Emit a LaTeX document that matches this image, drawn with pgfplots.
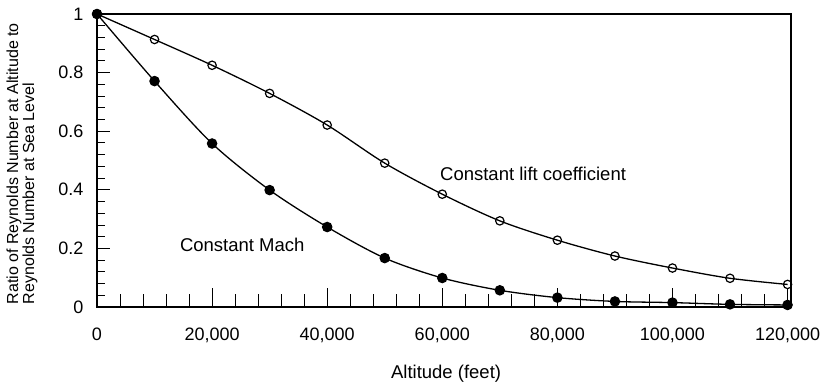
\documentclass[border=0pt]{standalone}
\usepackage{pgfplots}
\pgfplotsset{compat=1.18}
\usepackage{fontspec}
\setmainfont{Liberation Sans}
\begin{document}
\begin{tikzpicture}
\pgfplotsset{
  common/.style={
    at={(0,0)}, anchor=south west,
    scale only axis, width=694pt, height=293pt,
    xmin=0, xmax=120600, ymin=0, ymax=1,
    scaled x ticks=false, scaled y ticks=false,
    axis line style={line width=1.2pt},
    tick align=inside,
    xtick pos=bottom, ytick pos=left,
  }
}
\begin{axis}[common,
  font=\fontsize{18}{20}\selectfont,
  xtick={0,20000,40000,60000,80000,100000,120000},
  xticklabels={0,{20,000},{40,000},{60,000},{80,000},{100,000},{120,000}},
  xtick style={draw=none},
  ytick={0,0.2,0.4,0.6,0.8,1},
  yticklabels={0,0.2,0.4,0.6,0.8,1},
  minor y tick num=4,
  major tick length=12.7pt, minor tick length=7.7pt,
  ytick style={line width=0.9pt, black},
  every minor tick/.append style={line width=0.9pt, black},
  xticklabel style={yshift=-17pt, font=\fontsize{18}{20}\selectfont},
  yticklabel style={xshift=-10pt, font=\fontsize{18}{20}\selectfont},
  xlabel={Altitude (feet)},
  xlabel style={at={(axis description cs:0.503,-0.228)}, anchor=center, font=\fontsize{18.5}{20}\selectfont},
  ylabel={Ratio of Reynolds Number at Altitude to\\Reynolds Number at Sea Level},
  ylabel style={at={(axis description cs:-0.108,0.489)}, anchor=center, align=left, font=\fontsize{16}{14.5}\selectfont},
  clip=false,
]
\addplot[black, line width=1.3pt, smooth, tension=0.5, mark=o, mark size=4.2pt,
  mark options={fill=white, line width=1.2pt}] coordinates {
  (0,1.0) (10000,0.913) (20000,0.825) (30000,0.729) (40000,0.621)
  (50000,0.491) (60000,0.385) (70000,0.294) (80000,0.228) (90000,0.174)
  (100000,0.133) (110000,0.098) (120000,0.077)
};
\addplot[black, line width=1.3pt, smooth, tension=0.5, mark=*, mark size=4.6pt,
  mark options={fill=black}] coordinates {
  (0,1.0) (10000,0.771) (20000,0.558) (30000,0.399) (40000,0.273)
  (50000,0.167) (60000,0.099) (70000,0.057) (80000,0.032) (90000,0.019)
  (100000,0.015) (110000,0.009) (120000,0.007)
};
\node[anchor=west, inner sep=0pt, font=\fontsize{18.5}{20}\selectfont] at (axis cs:59600,0.453) {Constant lift coefficient};
\node[anchor=west, inner sep=0pt, font=\fontsize{18.5}{20}\selectfont] at (axis cs:14400,0.211) {Constant Mach};
\end{axis}
\begin{axis}[common,
  axis line style={draw=none},
  xtick={0,20000,40000,60000,80000,100000,120000},
  xticklabels={},
  minor x tick num=4,
  ytick=\empty,
  major tick length=19pt, minor tick length=12.7pt,
  xtick style={line width=0.9pt, black},
  every minor tick/.append style={line width=0.9pt, black},
]
\end{axis}
\pgfresetboundingbox
\path (-97pt,-81pt) rectangle (725pt,307pt);
\end{tikzpicture}
\end{document}
